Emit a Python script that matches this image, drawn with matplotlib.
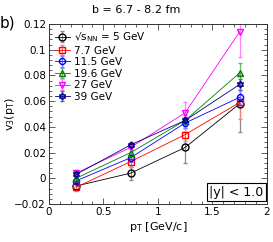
import matplotlib
matplotlib.use("Agg")
import matplotlib.pyplot as plt
from matplotlib.ticker import MultipleLocator

pt = [0.25, 0.75, 1.25, 1.75]

labels = ["\u221as$_{\\mathrm{NN}}$ = 5 GeV", "7.7 GeV", "11.5 GeV", "19.6 GeV", "27 GeV", "39 GeV"]
v3 = [
    [-0.006, 0.004, 0.024, 0.058],
    [-0.007, 0.013, 0.034, 0.059],
    [-0.002, 0.016, 0.043, 0.063],
    [0.000, 0.020, 0.045, 0.082],
    [0.004, 0.024, 0.051, 0.114],
    [0.003, 0.026, 0.045, 0.073],
]
v3_err = [
    [0.003, 0.005, 0.012, 0.022],
    [0.003, 0.004, 0.005, 0.013],
    [0.002, 0.003, 0.004, 0.006],
    [0.002, 0.003, 0.004, 0.008],
    [0.002, 0.003, 0.008, 0.020],
    [0.002, 0.002, 0.003, 0.004],
]

colors = ["black", "red", "blue", "green", "magenta", "navy"]
ecolors = ["#8c8c8c", "#f08080", "#8080ff", "#70b070", "#ff80ff", "#6060b0"]
markers = ["o", "s", "8", "^", "v", (6, 1, 0)]

plt.rcParams["font.family"] = "DejaVu Sans"
plt.rcParams["font.size"] = 7.5

fig = plt.figure(figsize=(2.73, 2.42), dpi=100)
ax = fig.add_axes([0.179, 0.157, 0.799, 0.744])

for i in range(len(labels)):
    ax.errorbar(pt, v3[i], yerr=v3_err[i], color=colors[i], ecolor=ecolors[i],
                marker=markers[i], mfc="none", mec=colors[i], ms=5, mew=1.0,
                lw=0.6, elinewidth=0.9, capsize=1.2, label=labels[i])

ax.set_xlim(0, 2)
ax.set_ylim(-0.02, 0.12)
ax.xaxis.set_major_locator(MultipleLocator(0.5))
ax.xaxis.set_minor_locator(MultipleLocator(0.1))
ax.yaxis.set_major_locator(MultipleLocator(0.02))
ax.yaxis.set_minor_locator(MultipleLocator(0.004))
ax.set_yticks([-0.02, 0, 0.02, 0.04, 0.06, 0.08, 0.1, 0.12])
ax.set_yticklabels(["\u22120.02", "0", "0.02", "0.04", "0.06", "0.08", "0.1", "0.12"])
ax.set_xticks([0, 0.5, 1, 1.5, 2])
ax.set_xticklabels(["0", "0.5", "1", "1.5", "2"])
ax.tick_params(which="both", direction="in", top=True, right=True, colors="#444444",
               labelcolor="black", width=0.6)
ax.tick_params(which="major", length=4, pad=2)
ax.tick_params(which="minor", length=2)
for s in ax.spines.values():
    s.set_linewidth(0.7)
    s.set_color("#333333")

ax.set_xlabel(r"p$_{\mathrm{T}}$ [GeV/c]", fontsize=8, labelpad=2)
ax.set_ylabel(r"v$_3$(p$_{\mathrm{T}}$)", fontsize=8)
ax.yaxis.set_label_coords(-0.145, 0.5)

leg = ax.legend(loc="upper left", frameon=False, fontsize=7.5, handlelength=1.4,
                handletextpad=0.4, labelspacing=0.15, borderaxespad=0.2)

ax.text(0.985, 0.03, "|y| < 1.0", transform=ax.transAxes, ha="right", va="bottom",
        fontsize=9, bbox=dict(facecolor="white", edgecolor="black", lw=0.8, pad=2))

fig.text(0.5, 0.958, "b = 6.7 - 8.2 fm", ha="center", va="center", fontsize=8)
fig.text(0.0, 0.905, "b)", ha="left", va="center", fontsize=11)

fig.savefig("out.png", dpi=100)
